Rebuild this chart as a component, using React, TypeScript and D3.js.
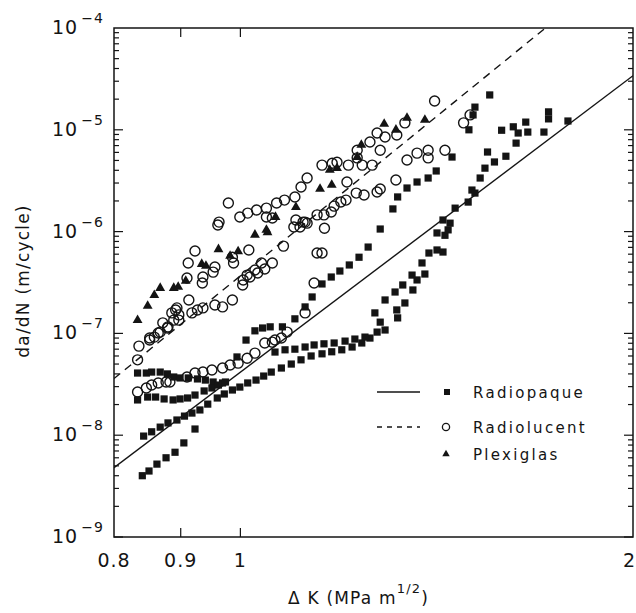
import React, { useEffect, useRef } from "react"
import * as d3 from "d3"

// [deltaK (MPa m^1/2), da/dN (m/cycle)]
const radiopaque = [
  [0.841, 4.0e-9], [0.851, 4.45e-9], [0.863, 5.2e-9], [0.877, 6.0e-9], [0.891, 6.8e-9], [0.905, 8.4e-9], [0.923, 1.15e-8],
  [0.843, 9.8e-9], [0.855, 1.08e-8], [0.868, 1.2e-8], [0.88, 1.32e-8], [0.894, 1.41e-8], [0.906, 1.54e-8], [0.918, 1.65e-8],
  [0.931, 1.77e-8], [0.944, 2.02e-8], [0.96, 2.32e-8], [0.972, 2.54e-8], [0.986, 2.78e-8], [0.999, 2.97e-8], [1.013, 3.26e-8],
  [1.028, 3.48e-8], [1.042, 3.81e-8], [1.056, 4.17e-8], [1.075, 4.57e-8], [1.094, 5.0e-8], [1.113, 5.5e-8], [1.133, 6.0e-8],
  [1.155, 6.3e-8], [1.175, 6.6e-8], [1.196, 6.9e-8], [1.218, 7.35e-8], [1.239, 8.05e-8], [1.257, 9.0e-8],
  [1.063, 6.56e-8], [1.082, 6.9e-8], [1.101, 7.0e-8], [1.121, 7.35e-8], [1.139, 7.7e-8], [1.159, 7.9e-8], [1.18, 8.05e-8],
  [1.203, 8.4e-8], [1.224, 8.8e-8], [1.246, 9.2e-8],
  [1.273, 1.03e-7], [1.291, 1.08e-7], [1.28, 1.29e-7], [1.268, 1.59e-7], [1.291, 2.13e-7], [1.318, 1.7e-7], [1.32, 1.42e-7],
  [1.314, 2.55e-7], [1.337, 1.99e-7], [1.332, 2.99e-7], [1.356, 2.67e-7], [1.354, 3.74e-7], [1.366, 3.35e-7], [1.385, 3.83e-7],
  [1.378, 4.92e-7], [1.395, 6.16e-7], [1.415, 6.6e-7], [1.43, 6.3e-7], [1.415, 9.7e-7], [1.435, 9.2e-7], [1.443, 1.04e-6],
  [1.43, 1.3e-6], [1.448, 1.21e-6], [1.461, 1.7e-6], [1.495, 1.95e-6], [1.505, 2.56e-6], [1.513, 2.39e-6], [1.527, 3.36e-6],
  [1.54, 4.2e-6], [1.547, 6.05e-6], [1.566, 4.83e-6], [1.598, 5.5e-6], [1.627, 7.4e-6], [1.586, 9.9e-6], [1.619, 1.07e-5],
  [1.633, 9.3e-6], [1.655, 1.19e-5], [1.661, 9.5e-6], [1.709, 9.5e-6], [1.723, 1.5e-5], [1.723, 1.28e-5], [1.783, 1.22e-5],
  [1.497, 1.0e-5], [1.508, 1.4e-5], [1.513, 1.67e-5], [1.553, 2.2e-5],
  [0.834, 4.08e-8], [0.847, 4.08e-8], [0.855, 4.17e-8], [0.868, 4.17e-8], [0.879, 4.0e-8], [0.889, 3.73e-8], [0.899, 3.65e-8],
  [0.912, 3.65e-8], [0.927, 3.57e-8], [0.94, 3.48e-8], [0.953, 3.33e-8], [0.969, 3.26e-8],
  [0.834, 2.22e-8], [0.849, 2.37e-8], [0.861, 2.37e-8], [0.874, 2.27e-8], [0.888, 2.22e-8], [0.899, 2.27e-8], [0.911, 2.32e-8],
  [0.923, 2.48e-8], [0.938, 2.72e-8], [0.951, 2.91e-8], [0.962, 3.11e-8], [0.974, 3.33e-8],
  [0.994, 5.87e-8], [1.01, 8.6e-8], [1.026, 1.06e-7], [1.04, 1.13e-7], [1.054, 1.16e-7], [1.077, 1.16e-7], [1.101, 1.39e-7],
  [1.121, 1.82e-7], [1.135, 2.28e-7], [1.155, 3.06e-7], [1.174, 3.58e-7], [1.192, 4.1e-7], [1.212, 4.7e-7], [1.233, 5.6e-7],
  [1.253, 7.05e-7], [1.28, 1.06e-6], [1.309, 1.67e-6], [1.32, 2.19e-6], [1.342, 2.68e-6], [1.366, 3.07e-6], [1.393, 3.36e-6],
  [1.413, 3.94e-6], [1.453, 5.4e-6],
]

const radiolucent = [
  [0.834, 2.66e-8], [0.847, 2.91e-8], [0.855, 3.11e-8], [0.865, 3.26e-8], [0.877, 3.33e-8], [0.883, 3.33e-8], [0.91, 3.73e-8],
  [0.923, 4.08e-8], [0.936, 4.17e-8], [0.951, 4.37e-8], [0.969, 4.57e-8], [0.982, 4.89e-8], [0.996, 5.1e-8], [1.012, 5.7e-8],
  [1.026, 6.4e-8], [1.044, 8.05e-8], [1.058, 8.2e-8], [1.063, 8.6e-8], [1.075, 9.0e-8], [1.086, 1.03e-7], [1.121, 1.59e-7],
  [1.139, 3.13e-7], [1.155, 6.16e-7], [1.16, 1.08e-6],
  [0.834, 5.5e-8], [0.836, 7.5e-8], [0.852, 8.6e-8], [0.859, 9.2e-8], [0.868, 1.03e-7], [0.879, 1.13e-7], [0.889, 1.35e-7],
  [0.897, 1.52e-7], [0.913, 2.13e-7], [0.892, 1.7e-7], [0.872, 1.27e-7], [0.865, 1.01e-7], [0.852, 9.0e-8], [0.88, 1.16e-7],
  [0.886, 1.59e-7], [0.894, 1.78e-7], [0.897, 1.35e-7], [0.918, 1.59e-7], [0.927, 1.7e-7], [0.936, 1.78e-7], [0.956, 1.9e-7],
  [0.969, 1.82e-7], [0.986, 2.13e-7], [1.004, 2.99e-7], [1.017, 3.58e-7], [1.031, 3.92e-7], [1.044, 4.29e-7], [1.058, 4.92e-7],
  [1.079, 7.2e-7], [1.099, 1.11e-6], [1.111, 1.11e-6], [1.125, 1.21e-6], [1.145, 1.46e-6], [1.159, 1.46e-6], [1.174, 1.56e-6],
  [1.18, 1.78e-6], [1.194, 1.95e-6], [1.205, 2.04e-6], [1.117, 1.24e-6], [1.227, 2.39e-6], [1.244, 2.29e-6], [1.273, 2.45e-6],
  [1.28, 2.62e-6], [1.316, 3.21e-6], [1.342, 5.05e-6], [1.366, 5.9e-6], [1.393, 6.3e-6], [1.393, 5.3e-6], [1.435, 6.3e-6],
  [1.483, 1.17e-5], [1.5, 1.4e-5], [1.409, 1.92e-5],
  [0.923, 6.44e-7], [0.912, 4.92e-7], [0.91, 3.5e-7], [0.936, 3.58e-7], [0.935, 3.13e-7], [0.953, 4.0e-7], [0.956, 4.49e-7],
  [0.986, 5.6e-7], [0.988, 4.92e-7], [1.015, 6.6e-7], [0.961, 1.16e-6], [0.963, 1.24e-6], [0.979, 1.91e-6], [0.999, 1.39e-6],
  [1.013, 1.52e-6], [1.029, 1.63e-6], [1.047, 1.7e-6], [1.066, 1.91e-6], [1.081, 2.04e-6], [1.101, 2.19e-6], [1.113, 2.74e-6],
  [1.125, 3.36e-6], [1.155, 4.5e-6], [1.176, 4.7e-6], [1.186, 4.8e-6], [1.21, 4.5e-6], [1.229, 6.3e-6], [1.229, 5.3e-6],
  [1.257, 7.6e-6], [1.273, 9.3e-6], [1.291, 8.5e-6], [1.318, 8.9e-6], [1.337, 1.17e-5], [1.28, 6.3e-6], [1.24, 4.5e-6],
  [1.262, 4.5e-6], [1.047, 1.39e-6], [1.058, 1.36e-6], [1.103, 1.3e-6], [1.121, 1.24e-6], [1.038, 4.92e-7], [1.026, 4.2e-7],
  [1.012, 3.74e-7], [1.005, 3.35e-7], [1.145, 6.16e-7], [1.207, 3.07e-6],
]

const plexiglas = [
  [0.834, 1.35e-7], [0.849, 1.86e-7], [0.859, 2.38e-7], [0.868, 2.79e-7], [0.889, 2.79e-7], [0.896, 2.86e-7], [0.908, 3.27e-7],
  [0.934, 4.8e-7], [0.941, 4.6e-7], [0.962, 6.7e-7], [0.982, 5.76e-7], [0.996, 6.4e-7], [1.026, 9.3e-7], [1.047, 1.04e-6],
  [1.049, 9.8e-7], [1.064, 1.39e-6], [1.103, 1.74e-6], [1.151, 2.62e-6], [1.175, 2.87e-6], [1.186, 4.2e-6], [1.171, 4.03e-6],
  [1.229, 5.4e-6], [1.238, 7.1e-6], [1.289, 1.14e-5], [1.316, 1.0e-5], [1.342, 1.31e-5], [1.385, 1.25e-5],
]

// fitted power-law lines, end values at deltaK = 0.8 and 2
const fitK = [0.8, 2]
const radiopaqueFit = [4.8e-9, 3.4e-5]
const radiolucentFit = [3.6e-8, 5.0e-4]

const xTickValues = [0.8, 0.9, 1, 2]
const xTickLabels = ["0.8", "0.9", "1", "2"]
const yExponents = [-9, -8, -7, -6, -5, -4]
const legendLabels = ["Radiopaque", "Radiolucent", "Plexiglas"]

const font = "'DejaVu Sans', sans-serif"
const ink = "#141414"

export default function App() {
  const ref = useRef(null)

  useEffect(() => {
    const svg = d3.select(ref.current)
    svg.selectAll("*").remove()

    const left = 114, right = 633, top = 28, bottom = 537
    const x = d3.scaleLog().domain([0.8, 2]).range([left, right])
    const y = d3.scaleLog().domain([1e-9, 1e-4]).range([bottom, top])

    svg.append("defs").append("clipPath").attr("id", "plotclip")
      .append("rect").attr("x", left).attr("y", top).attr("width", right - left).attr("height", bottom - top)

    // frame
    svg.append("rect")
      .attr("x", left).attr("y", top).attr("width", right - left).attr("height", bottom - top)
      .attr("fill", "none").attr("stroke", ink).attr("stroke-width", 1.5)

    // y ticks (log, with minors) on left and right
    const yt = svg.append("g").attr("stroke", ink).attr("stroke-width", 1.2)
    for (let e = -9; e < -4; e++) {
      for (let k = 1; k < 10; k++) {
        const v = k * Math.pow(10, e)
        const len = k === 1 ? 9 : 5
        yt.append("line").attr("x1", left).attr("x2", left + len).attr("y1", y(v)).attr("y2", y(v))
        yt.append("line").attr("x1", right).attr("x2", right - len).attr("y1", y(v)).attr("y2", y(v))
      }
    }

    // x ticks top and bottom
    xTickValues.slice(1, 3).forEach(v => {
      yt.append("line").attr("x1", x(v)).attr("x2", x(v)).attr("y1", bottom).attr("y2", bottom - 9)
      yt.append("line").attr("x1", x(v)).attr("x2", x(v)).attr("y1", top).attr("y2", top + 9)
    })

    // y tick labels 10^n
    yExponents.forEach(e => {
      const t = svg.append("text")
        .attr("x", 52).attr("y", y(Math.pow(10, e)) + 6)
        .attr("font-family", font).attr("font-size", 19).attr("fill", ink)
        .attr("letter-spacing", 1)
      t.append("tspan").text("10")
      t.append("tspan").attr("dx", 3).attr("dy", -11).attr("font-size", 14).text("\u2212" + Math.abs(e))
    })

    // x tick labels (last one sits on the right edge)
    xTickValues.forEach((v, i) => {
      const last = i === xTickValues.length - 1
      svg.append("text").attr("x", last ? 635 : x(v)).attr("y", 567)
        .attr("text-anchor", last ? "end" : "middle").attr("font-family", font).attr("font-size", 19)
        .attr("letter-spacing", last ? 0 : 1).attr("fill", ink).text(xTickLabels[i])
    })

    // axis titles
    const xt = svg.append("text").attr("x", 288).attr("y", 604)
      .attr("font-family", font).attr("font-size", 17).attr("letter-spacing", 1.2).attr("fill", ink)
    xt.append("tspan").text("\u0394 K  (MPa  m")
    xt.append("tspan").attr("dy", -11).attr("font-size", 13).text("1/2")
    xt.append("tspan").attr("dy", 11).text(")")

    svg.append("text")
      .attr("transform", "translate(29,281) rotate(-90)")
      .attr("text-anchor", "middle").attr("font-family", font).attr("font-size", 17)
      .attr("letter-spacing", 1.2).attr("fill", ink)
      .text("da/dN  (m/cycle)")

    // fit lines
    const line = d3.line().x(d => x(d[0])).y(d => y(d[1]))
    const lines = svg.append("g").attr("clip-path", "url(#plotclip)")
    lines.append("path").attr("d", line(fitK.map((k, i) => [k, radiopaqueFit[i]])))
      .attr("fill", "none").attr("stroke", ink).attr("stroke-width", 1.4)
    lines.append("path").attr("d", line(fitK.map((k, i) => [k, radiolucentFit[i]])))
      .attr("fill", "none").attr("stroke", ink).attr("stroke-width", 1.4).attr("stroke-dasharray", "8,6")

    // points
    svg.append("g").selectAll("circle").data(radiolucent).enter().append("circle")
      .attr("cx", d => x(d[0])).attr("cy", d => y(d[1])).attr("r", 5)
      .attr("fill", "none").attr("stroke", ink).attr("stroke-width", 1.4)

    svg.append("g").selectAll("rect").data(radiopaque).enter().append("rect")
      .attr("x", d => x(d[0]) - 3.6).attr("y", d => y(d[1]) - 3.6)
      .attr("width", 7.2).attr("height", 7.2).attr("fill", ink)

    const tri = d3.symbol().type(d3.symbolTriangle).size(42)
    svg.append("g").selectAll("path").data(plexiglas).enter().append("path")
      .attr("transform", d => "translate(" + x(d[0]) + "," + y(d[1]) + ")")
      .attr("d", tri).attr("fill", ink)

    // legend
    const lg = svg.append("g")
    const rows = [392, 427, 454]
    lg.append("line").attr("x1", 377).attr("x2", 420).attr("y1", rows[0]).attr("y2", rows[0])
      .attr("stroke", ink).attr("stroke-width", 1.4)
    lg.append("line").attr("x1", 377).attr("x2", 420).attr("y1", rows[1]).attr("y2", rows[1])
      .attr("stroke", ink).attr("stroke-width", 1.4).attr("stroke-dasharray", "5,5")
    lg.append("rect").attr("x", 444).attr("y", rows[0] - 3).attr("width", 6).attr("height", 6).attr("fill", ink)
    lg.append("circle").attr("cx", 446).attr("cy", rows[1]).attr("r", 3.6)
      .attr("fill", "none").attr("stroke", ink).attr("stroke-width", 1.3)
    lg.append("path").attr("transform", "translate(446," + rows[2] + ")")
      .attr("d", d3.symbol().type(d3.symbolTriangle).size(24)).attr("fill", ink)
    legendLabels.forEach((s, i) => {
      lg.append("text").attr("x", 473).attr("y", rows[i] + 6)
        .attr("font-family", font).attr("font-size", 15).attr("letter-spacing", 2.3)
        .attr("fill", ink).text(s)
    })
  }, [])

  return (
    <svg ref={ref} width={636} height={613}
      style={{ position: "absolute", left: 0, top: 0, background: "white" }} />
  )
}
